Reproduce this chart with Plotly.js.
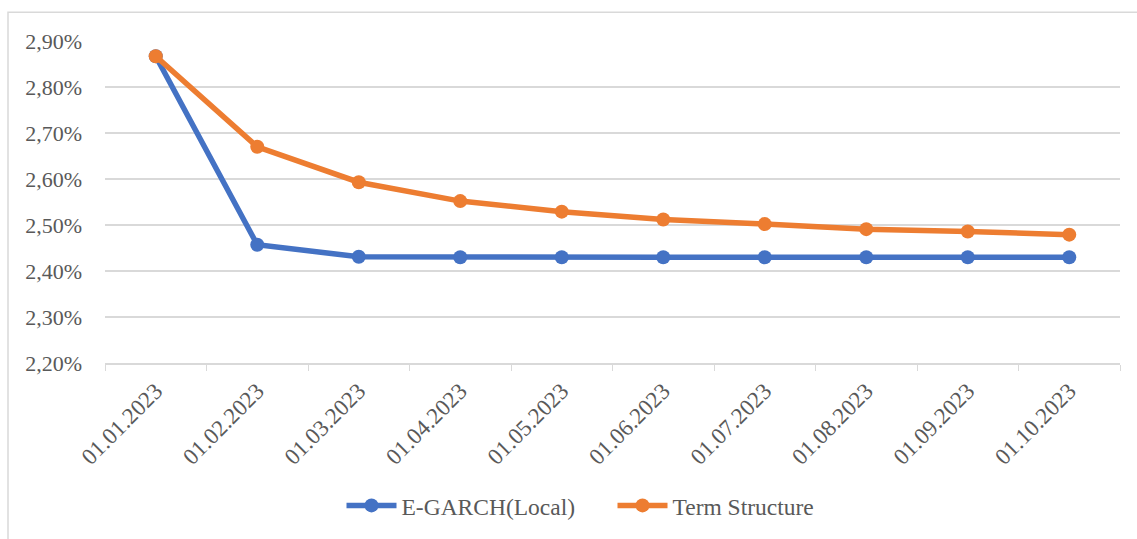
<!DOCTYPE html>
<html>
<head>
<meta charset="utf-8">
<script src="https://cdn.plot.ly/plotly-3.0.1.min.js"></script>
<style>
html,body{margin:0;padding:0;background:#fff;}
#chart{width:1137px;height:539px;}
</style>
</head>
<body>
<div id="chart"></div>
<script>
const categories = ["01.01.2023","01.02.2023","01.03.2023","01.04.2023","01.05.2023","01.06.2023","01.07.2023","01.08.2023","01.09.2023","01.10.2023"];
const egarchLocal = [0.02867, 0.02457, 0.02431, 0.02430, 0.02430, 0.02430, 0.02430, 0.02430, 0.02430, 0.02430];
const termStructure = [0.02867, 0.02670, 0.02593, 0.02552, 0.02529, 0.02512, 0.02502, 0.02491, 0.02486, 0.02479];
const seriesNames = ["E-GARCH(Local)", "Term Structure"];

const font = "Liberation Serif";
const traces = [
  {x: categories, y: egarchLocal, name: seriesNames[0], type: 'scatter', mode: 'lines+markers',
   line: {color: '#4472C4', width: 5.5}, marker: {color: '#4472C4', size: 14}},
  {x: categories, y: termStructure, name: seriesNames[1], type: 'scatter', mode: 'lines+markers',
   line: {color: '#ED7D31', width: 5.5}, marker: {color: '#ED7D31', size: 14}}
];
const layout = {
  width: 1137, height: 539,
  margin: {l: 105, r: 17, t: 41, b: 173},
  paper_bgcolor: '#fff', plot_bgcolor: '#fff',
  separators: ',.',
  font: {family: font, color: '#595959', size: 22},
  showlegend: true,
  legend: {orientation: 'h', x: 0.5, xanchor: 'center', y: -0.443, yanchor: 'middle',
           itemwidth: 50, entrywidth: 206, entrywidthmode: 'pixels',
           font: {family: font, size: 23.5, color: '#595959'}},
  xaxis: {type: 'category', range: [-0.5, 9.5], autorange: false, automargin: false,
          tickson: 'boundaries', ticks: 'outside', ticklen: 6,
          tickcolor: '#d9d9d9', showline: true, linecolor: '#d9d9d9', linewidth: 1.5,
          showgrid: false, tickangle: -45, zeroline: false, ticklabelstandoff: 4,
          tickfont: {family: font, size: 23, color: '#595959'}},
  yaxis: {range: [0.022, 0.029], autorange: false, automargin: false, dtick: 0.001,
          tickformat: '.2%', showgrid: true,
          gridcolor: '#d9d9d9', gridwidth: 1.5, zeroline: false, showline: false, ticks: '',
          ticklabelstandoff: 22, tickfont: {family: font, size: 22, color: '#595959'}},
  shapes: [{type: 'rect', xref: 'paper', yref: 'paper',
            x0: (8 - 105) / 1015, x1: 1.1, y0: -0.7, y1: (366 - 12) / 325,
            line: {color: '#d9d9d9', width: 1.5}, fillcolor: 'rgba(0,0,0,0)', layer: 'below'}]
};
Plotly.newPlot('chart', traces, layout, {staticPlot: true, displayModeBar: false});
</script>
</body>
</html>
